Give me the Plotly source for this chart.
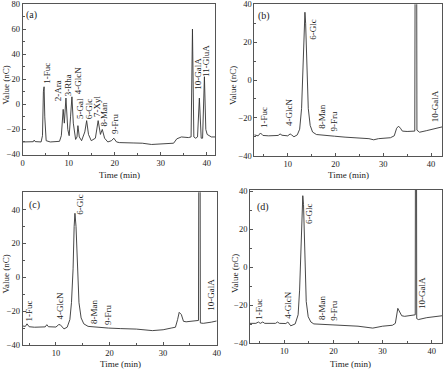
import plotly.graph_objects as go

# ---------------- data ----------------
t_a = [0, 2.3, 2.5, 2.7, 4.0, 4.3, 4.5, 4.65, 4.8, 5.1, 6, 8.0, 8.4, 8.8, 9.05, 9.4, 9.8, 10.1,
       10.4, 10.7, 11.0, 11.5, 11.8, 12.0, 12.3, 12.8, 13.5, 13.9, 14.3, 14.9, 15.8, 16.4, 16.9,
       17.3, 17.8, 18.5, 19.3, 19.8, 20.4, 21, 24, 26, 28, 30, 32.8, 33.5, 34.5, 36.0, 36.6, 36.9,
       37.2, 37.6, 38.0, 38.4, 38.8, 39.1, 39.5, 39.8, 40.1, 41, 41.8]
v_a = [-30, -29.8, -28.5, -29.7, -30, -25, 10, 14, -10, -29, -30, -29.5, -25, -4, -15, 5, -20, -25,
       -10, 6, -15, -28, -26, -17, -26, -29, -22, -13, -24, -29, -27, -13, -24,
       -20, -27, -30, -29, -27, -30, -30.5, -30.8, -31, -32, -31.5, -31, -27.5, -26, -26.5, -26, 60,
       -26, -27, -26, 5, -27, -27, 22, -20, -24, -26, -26]

t_b = [3, 3.8, 4.3, 4.8, 6, 8.0, 8.4, 8.8, 10, 10.5, 10.8, 11.3, 12.0, 12.5, 12.9, 13.2, 13.45,
       13.6, 13.75, 14.0, 14.3, 14.7, 15.2, 16, 17.5, 19.8, 22, 25, 27, 28, 29, 31.5, 32.3, 32.8,
       33.2, 33.6, 34.0, 35, 36.6, 36.75, 36.85, 36.95, 37.05, 37.6, 39, 41, 42.3]
v_b = [-29, -29.5, -28, -29.3, -29.5, -29.3, -28.5, -29.2, -29.5, -28.5, -29, -30, -29, -26, -15,
       5, 30, 35.8, 30, 5, -15, -24, -27.5, -28.8, -29.3, -29.7, -30.2, -30.5, -31, -31.6, -31,
       -30.5, -29.5, -25.5, -24.4, -25.5, -27, -27.2, -27, 150, 150, 150, -26.5, -27.6, -26.8,
       -25.5, -24.8]

t_c = [3.8, 4.3, 4.6, 5.0, 6, 8.0, 8.3, 8.6, 10, 10.5, 10.8, 11.5, 12.1, 12.6, 12.9, 13.2, 13.4,
       13.55, 13.75, 14.0, 14.3, 14.7, 15.2, 16, 17.5, 19.8, 22, 25, 28, 30, 31.5, 32.3, 32.7,
       33.0, 33.4, 33.8, 34.3, 36.0, 36.6, 36.75, 36.85, 36.95, 37.5, 39, 40]
v_c = [-28.8, -29, -27.5, -29.2, -29.5, -29.3, -28, -29.2, -29.4, -28, -28, -30.5, -29.5, -25,
       -15, 5, 30, 37.8, 30, 5, -15, -24, -27.5, -29, -29.5, -30, -30.3, -30.6, -31.5, -31, -30,
       -29.5, -25, -20.7, -22, -26, -26.3, -26, -25.5, 200, 200, -27, -27.2, -26.5, -25.8]

t_d = [3, 4.2, 4.7, 5.1, 5.6, 6, 8.2, 8.6, 9, 10.3, 10.7, 11.3, 12.2, 12.8, 13.1, 13.4, 13.6,
       13.75, 13.9, 14.15, 14.45, 14.85, 15.4, 16, 18, 20, 25, 28, 30, 32, 32.6, 33.1, 33.5,
       33.9, 34.5, 36.3, 36.65, 36.75, 36.85, 36.95, 37.3, 39, 42.1]
v_d = [-29.5, -29.5, -28.8, -29.5, -28.8, -29.5, -29.5, -28.8, -29.5, -29.6, -28.8, -30.8, -29.8,
       -25, -12, 10, 33, 37.7, 33, 5, -18, -26, -28.8, -29.8, -30, -30.5, -31, -32, -31, -30.5,
       -29.5, -21.6, -23.5, -25.5, -25.8, -25.2, -25, 200, 200, -27, -27.5, -26.5, -25.5]

# peak labels: name, x (min), bottom of label (nC)
lab_a = ["1-Fuc", "2-Ara", "3-Rha", "4-GlcN", "5-Gal", "6-Glc", "7-Xyl", "8-Man", "9-Fru",
         "10-GalA", "11-GluA"]
lx_a = [5.1, 7.6, 9.9, 11.9, 12.3, 14.3, 16.3, 17.6, 20.0, 38.1, 40.0]
ly_a = [14.5, 1, 5, 6.5, -13.5, -13.5, -11.5, -19.5, -25, 10, 20]

lab_b = ["1-Fuc", "4-GlcN", "6-Glc", "8-Man", "9-Fru", "10-GalA"]
lx_b = [4.9, 10.3, 15.3, 17.1, 19.7, 41.0]
ly_b = [-26.5, -25.5, 20, -27, -28.5, -23.5]

lab_c = ["1-Fuc", "4-GlcN", "6-Glc", "8-Man", "9-Fru", "10-GalA"]
lx_c = [5.0, 10.7, 14.5, 17.0, 19.6, 38.9]
ly_c = [-27.5, -26, 35.5, -28.5, -29.5, -21]

lab_d = ["1-Fuc", "4-GlcN", "6-Glc", "8-Man", "9-Fru", "10-GalA"]
lx_d = [4.8, 10.7, 15.0, 17.8, 20.1, 38.0]
ly_d = [-28.5, -28, 22, -29, -29, -23]

panel_names = ["(a)", "(b)", "(c)", "(d)"]
x_title = "Time (min)"
y_title = "Value (nC)"

# ---------------- layout helpers ----------------
W, H = 443, 369
FONT = "Liberation Serif, Times New Roman, serif"
LINE = "#333333"


def xdom(l, r):
    return [l / W, r / W]


def ydom(t, b):
    return [1 - b / H, 1 - t / H]


panels = [
    dict(xp=(22.7, 215), xr=[0, 41.8], yp=(4, 154.5), yr=[-40, 80], t=t_a, v=v_a,
         lab=lab_a, lx=lx_a, ly=ly_a, ltxt=(32, 15), xt=(119, 174.5), yt=(5.5, 85)),
    dict(xp=(254.3, 442), xr=[3, 42.3], yp=(4.3, 155.7), yr=[-40, 40], t=t_b, v=v_b,
         lab=lab_b, lx=lx_b, ly=ly_b, ltxt=(264, 16), xt=(348.5, 174.5), yt=(233, 85)),
    dict(xp=(22.7, 216.7), xr=[3.8, 40], yp=(192.3, 345), yr=[-40, 50.2], t=t_c, v=v_c,
         lab=lab_c, lx=lx_c, ly=ly_c, ltxt=(34, 205), xt=(120, 363.5), yt=(5.5, 274)),
    dict(xp=(250, 442), xr=[3, 42.1], yp=(190, 343.3), yr=[-40, 40.7], t=t_d, v=v_d,
         lab=lab_d, lx=lx_d, ly=ly_d, ltxt=(263, 207), xt=(350, 363.5), yt=(235, 274)),
]

fig = go.Figure()
layout = dict(
    width=W, height=H, margin=dict(l=0, r=0, t=0, b=0, autoexpand=False),
    paper_bgcolor="white", plot_bgcolor="white", showlegend=False,
    font=dict(family=FONT, size=8, color="#222"),
)
annotations = []
TXT = "#222"

for i, p in enumerate(panels):
    n = "" if i == 0 else str(i + 1)
    xa, ya = "x" + n, "y" + n
    fig.add_trace(go.Scatter(x=p["t"], y=p["v"], mode="lines", xaxis=xa, yaxis=ya,
                             line=dict(color=LINE, width=0.9), hoverinfo="skip"))
    common = dict(showline=True, linecolor="#555", linewidth=0.8, mirror=True,
                  ticks="inside", ticklen=3, tickwidth=0.7, tickcolor="#555",
                  showgrid=False, zeroline=False, automargin=False,
                  ticklabeloverflow="allow",
                  tickfont=dict(family=FONT, size=8.5, color=TXT))
    layout["xaxis" + n] = dict(
        common, domain=xdom(*p["xp"]), range=p["xr"], anchor=ya, dtick=10, tick0=0,
        minor=dict(ticks="inside", ticklen=2, dtick=5, tick0=0, tickcolor="#555"))
    layout["yaxis" + n] = dict(
        common, domain=ydom(*p["yp"]), range=p["yr"], anchor=xa, dtick=20, tick0=0,
        minor=dict(ticks="inside", ticklen=2, dtick=10, tick0=0, tickcolor="#555"))
    for name, x, y in zip(p["lab"], p["lx"], p["ly"]):
        annotations.append(dict(text=name, x=x, y=y, xref=xa, yref=ya, showarrow=False,
                                textangle=-90, xanchor="center", yanchor="bottom",
                                font=dict(family=FONT, size=9, color=TXT)))
    lxp, lyp = p["ltxt"]
    annotations.append(dict(text=panel_names[i], x=lxp / W, y=1 - lyp / H, xref="paper",
                            yref="paper", showarrow=False, xanchor="center",
                            yanchor="middle", font=dict(family=FONT, size=10, color=TXT)))
    xtx, xty = p["xt"]
    annotations.append(dict(text=x_title, x=xtx / W, y=1 - xty / H, xref="paper",
                            yref="paper", showarrow=False, xanchor="center",
                            yanchor="middle", font=dict(family=FONT, size=9, color=TXT)))
    ytx, yty = p["yt"]
    annotations.append(dict(text=y_title, x=ytx / W, y=1 - yty / H, xref="paper",
                            yref="paper", showarrow=False, xanchor="center",
                            yanchor="middle", textangle=-90,
                            font=dict(family=FONT, size=9, color=TXT)))

layout["annotations"] = annotations
fig.update_layout(**layout)
fig.write_html("out.html", config={"displayModeBar": False},
               post_script="document.body.style.margin='0';document.body.style.overflow='hidden';")
